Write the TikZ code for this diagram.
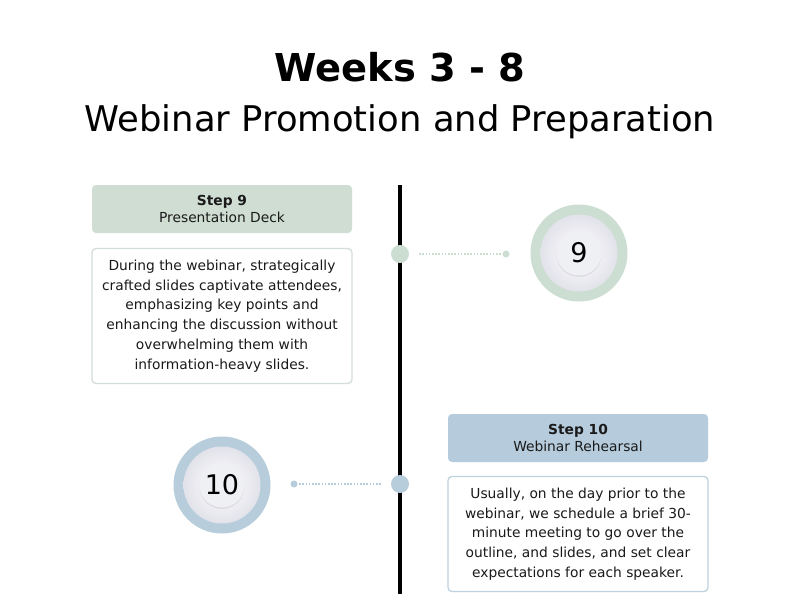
\documentclass[tikz,border=0pt]{standalone}
\usepackage{fontspec}
\setmainfont{DejaVu Sans}
\usetikzlibrary{shadows}
\definecolor{gfill}{HTML}{CFDDD3}
\definecolor{gring}{HTML}{CCDDD1}
\definecolor{gline}{HTML}{D3DED6}
\definecolor{bfill}{HTML}{B6CCDC}
\definecolor{bring}{HTML}{B8CDDC}
\definecolor{bline}{HTML}{BED2E0}
\definecolor{discin}{HTML}{EEF0F4}
\definecolor{discout}{HTML}{E2E2EA}
\definecolor{ink}{HTML}{1A1A1A}
\tikzset{
  x=1pt,y=-1pt,
  headbox/.style={rounded corners=4pt, minimum width=260pt, minimum height=48pt, inner sep=0pt, align=center, text=ink, font=\fontsize{13.8}{16.5}\selectfont},
  descbox/.style={rounded corners=4pt, fill=white, line width=1.3pt, minimum width=260pt, inner sep=0pt, align=center, text=ink, font=\fontsize{13.8}{19.7}\selectfont},
  bigdot/.style={circle, minimum size=18pt, inner sep=0pt},
  smalldot/.style={circle, minimum size=7pt, inner sep=0pt},
  dotline/.style={line width=1.6pt, dash pattern=on 1.6pt off 1.6pt},
  ring/.style={circle, minimum size=97pt, inner sep=0pt},
  disc/.style={circle, minimum size=77pt, inner sep=0pt, inner color=white, outer color=discout},
  core/.style={circle, minimum size=45pt, inner sep=0pt, fill=discin, font=\fontsize{27}{30}\selectfont},
}
\begin{document}
\begin{tikzpicture}
\useasboundingbox (0,0) rectangle (800,606);
\fill[white] (0,0) rectangle (800,606);
% titles
\node[font=\fontsize{38.4}{46}\bfseries\selectfont] (title) at (400,67) {Weeks 3 - 8};
\node[font=\fontsize{35.4}{42}\selectfont] (subtitle) at (400,122) {Webinar Promotion and Preparation};
% timeline
\coordinate (ltop) at (400,185);
\coordinate (lbot) at (400,594);
\draw[line width=4pt] (ltop) -- (lbot);
% step 9
\node[headbox, fill=gfill] (h9) at (222,209) {\textbf{Step 9}\\Presentation Deck};
\node[descbox, draw=gline, minimum height=135pt] (d9) at (222,316) {During the webinar, strategically\\crafted slides captivate attendees,\\emphasizing key points and\\enhancing the discussion without\\overwhelming them with\\information-heavy slides.};
\node[bigdot, fill=gring] (p9) at (400,254) {};
\node[smalldot, fill=gring] (s9) at (506,254) {};
\draw[dotline, draw=gring] ([xshift=10pt]p9.east) -- (s9.west);
\node[ring, fill=gring] (r9) at (579,253) {};
\node[disc] (k9) at (r9.center) {};
\node[core, drop shadow={shadow xshift=0pt, shadow yshift=-1.5pt, opacity=0.15}] (c9) at (r9.center) {9};
% step 10
\node[headbox, fill=bfill] (h10) at (578,438) {\textbf{Step 10}\\Webinar Rehearsal};
\node[descbox, draw=bline, minimum height=115pt] (d10) at (578,534) {Usually, on the day prior to the\\webinar, we schedule a brief 30-\\minute meeting to go over the\\outline, and slides, and set clear\\expectations for each speaker.};
\node[bigdot, fill=bring] (p10) at (400,484) {};
\node[smalldot, fill=bring] (s10) at (294,484) {};
\draw[dotline, draw=bring] ([xshift=-10pt]p10.west) -- (s10.east);
\node[ring, fill=bring] (r10) at (222,485) {};
\node[disc] (k10) at (r10.center) {};
\node[core, drop shadow={shadow xshift=0pt, shadow yshift=-1.5pt, opacity=0.15}] (c10) at (r10.center) {10};
\end{tikzpicture}
\end{document}
